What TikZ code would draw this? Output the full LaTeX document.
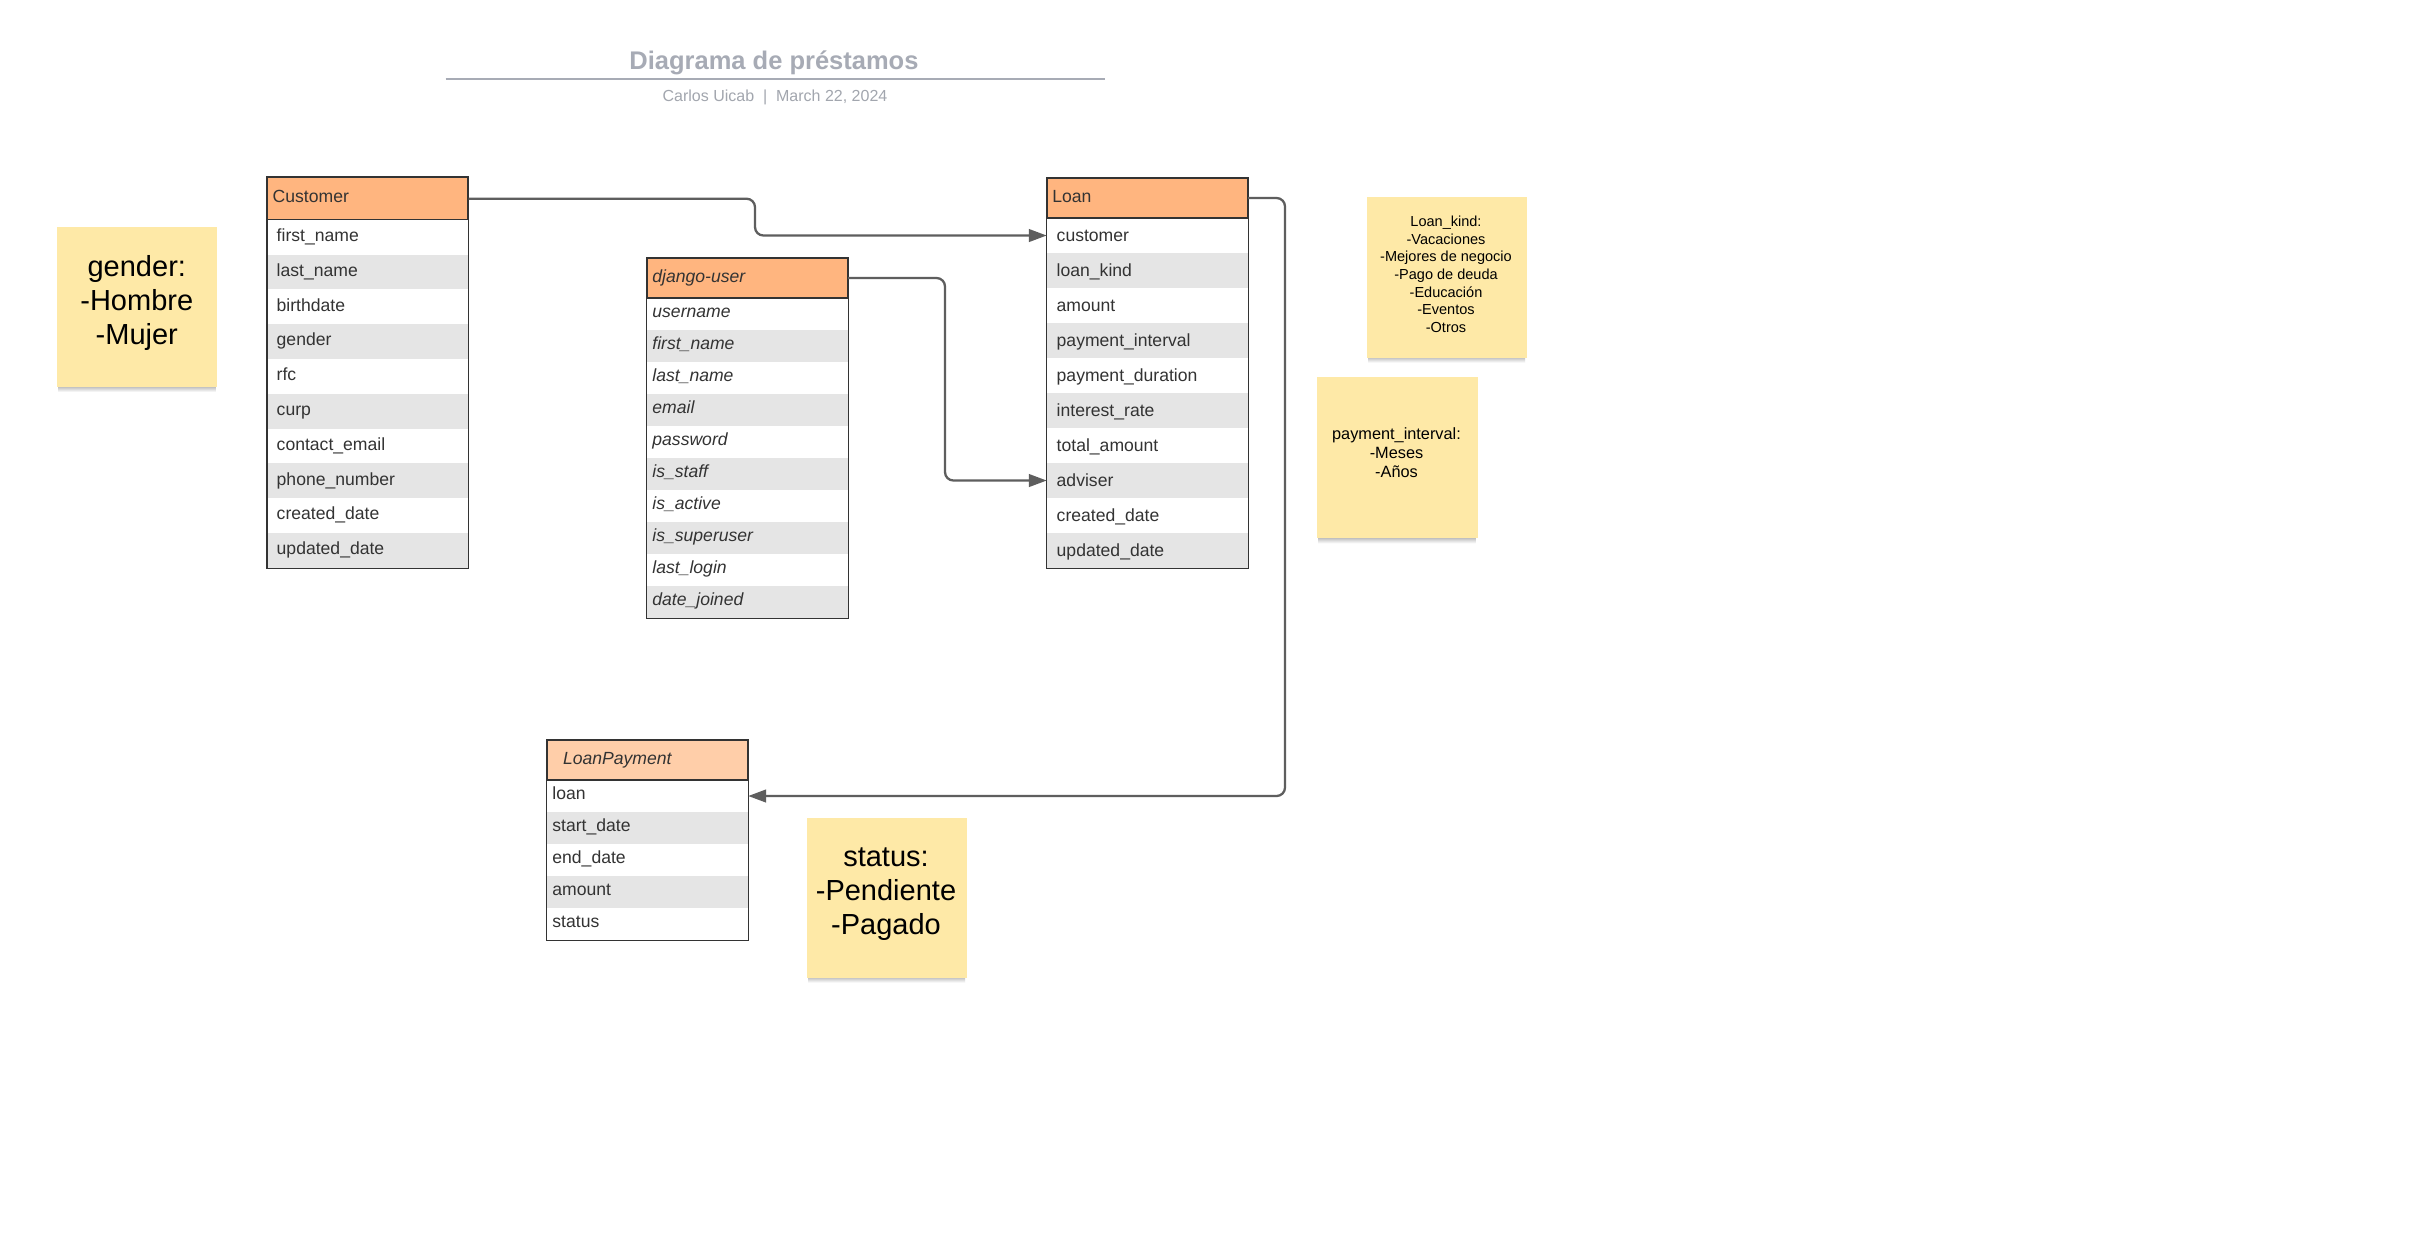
\documentclass[tikz,border=0pt]{standalone}
\usepackage{fontspec}
\setmainfont{Liberation Sans}
\usetikzlibrary{arrows.meta}
\definecolor{hdrorange}{HTML}{FFB57F}
\definecolor{hdrlight}{HTML}{FFCEA9}
\definecolor{rowgray}{HTML}{E5E5E5}
\definecolor{border}{HTML}{333333}
\definecolor{txt}{HTML}{333333}
\definecolor{notey}{HTML}{FEE9A7}
\definecolor{connc}{HTML}{5E5E5E}
\definecolor{titlec}{HTML}{A7ABB5}
\definecolor{subc}{HTML}{A2A6AE}
\def\pxu{0.28453pt}
\newcommand{\fieldfont}{\fontsize{5}{6}\selectfont}
\tikzset{
  cell/.style={rectangle, anchor=north west, inner ysep=0pt, align=left,
    text=txt, font=\fieldfont, text depth=4*\pxu},
  hdrcell/.style={cell, draw=border, line width=0.4pt},
  outline/.style={draw=border, line width=0.4pt},
  note/.style={rectangle, anchor=north west, fill=notey, inner sep=0pt,
    minimum width=160*\pxu, minimum height=160*\pxu},
  notetext/.style={align=center, text=black, inner sep=0pt},
  conn/.style={draw=connc, line width=0.65pt, rounded corners=2.4pt,
    -{Triangle[length=5.1pt,width=3.6pt]}},
}
\newcommand{\noteshadow}[3]{% x1, x2, ybottom
  \shade[top color=black!28, bottom color=white] (#1+2,#3) rectangle (#2-1,#3+6);}
\begin{document}
\begin{tikzpicture}[x=0.01cm,y=-0.01cm]
\useasboundingbox (0,0) rectangle (2426,1257);
\fill[white] (0,0) rectangle (2426,1257);

% ---------- title ----------
\node[anchor=base, text=titlec, inner sep=0pt, font=\bfseries\fontsize{7.25}{8.5}\selectfont] (title) at (774,69) {Diagrama de préstamos};
\coordinate (ruleL) at (445.6,79);
\coordinate (ruleR) at (1104.6,79);
\draw[draw=titlec, line width=0.45pt] (ruleL) -- (ruleR);
\node[anchor=base, text=subc, inner sep=0pt, font=\fontsize{4.55}{5.5}\selectfont] (subtitle) at (775,101) {Carlos Uicab \ \textbar\ \ March 22, 2024};

% ---------- Customer ----------
\foreach \t [count=\i] in {first\_name,last\_name,birthdate,gender,rfc,curp,contact\_email,phone\_number,created\_date,updated\_date}{
  \ifodd\i \def\rf{white}\else\def\rf{rowgray}\fi
  \node[cell, fill=\rf, minimum width=200*\pxu, minimum height=34.8*\pxu,
    inner xsep=9*\pxu, text width=182*\pxu, text height=12.6*\pxu] (cust-\i) at (267,{219+(\i-1)*34.8}) {\t};
}
\node[hdrcell, fill=hdrorange, minimum width=200*\pxu, minimum height=42*\pxu,
  inner xsep=5*\pxu, text width=190*\pxu, text height=11.4*\pxu] (cust) at (267,177) {Customer};
\draw[outline] (cust.north west) rectangle (cust-10.south east);

% ---------- django-user ----------
\foreach \t [count=\i] in {username,first\_name,last\_name,email,password,is\_staff,is\_active,is\_superuser,last\_login,date\_joined}{
  \ifodd\i \def\rf{white}\else\def\rf{rowgray}\fi
  \node[cell, fill=\rf, minimum width=200*\pxu, minimum height=32*\pxu,
    inner xsep=5*\pxu, text width=190*\pxu, text height=11.4*\pxu, font=\fieldfont\itshape] (dj-\i) at (646.7,{297.3+(\i-1)*32}) {\t};
}
\node[hdrcell, fill=hdrorange, minimum width=200*\pxu, minimum height=40*\pxu,
  inner xsep=5*\pxu, text width=190*\pxu, text height=12.8*\pxu, font=\fieldfont\itshape] (dj) at (646.7,257.3) {django-user};
\draw[outline] (dj.north west) rectangle (dj-10.south east);

% ---------- Loan ----------
\foreach \t [count=\i] in {customer,loan\_kind,amount,payment\_interval,payment\_duration,interest\_rate,total\_amount,adviser,created\_date,updated\_date}{
  \ifodd\i \def\rf{white}\else\def\rf{rowgray}\fi
  \node[cell, fill=\rf, minimum width=200*\pxu, minimum height=35*\pxu,
    inner xsep=9.3*\pxu, text width=181.4*\pxu, text height=16*\pxu] (loan-\i) at (1046.7,{217.3+(\i-1)*35}) {\t};
}
\node[hdrcell, fill=hdrorange, minimum width=200*\pxu, minimum height=40*\pxu,
  inner xsep=5*\pxu, text width=190*\pxu, text height=12.8*\pxu] (loan) at (1046.7,177.3) {Loan};
\draw[outline] (loan.north west) rectangle (loan-10.south east);

% ---------- LoanPayment ----------
\foreach \t [count=\i] in {loan,start\_date,end\_date,amount,status}{
  \ifodd\i \def\rf{white}\else\def\rf{rowgray}\fi
  \node[cell, fill=\rf, minimum width=200*\pxu, minimum height=32*\pxu,
    inner xsep=5*\pxu, text width=190*\pxu, text height=10.6*\pxu] (lp-\i) at (546.7,{779.3+(\i-1)*32}) {\t};
}
\node[hdrcell, fill=hdrlight, minimum width=200*\pxu, minimum height=40*\pxu,
  inner xsep=15.6*\pxu, text width=168.8*\pxu, text height=12*\pxu, font=\fieldfont\itshape] (lp) at (546.7,739.3) {LoanPayment};
\draw[outline] (lp.north west) rectangle (lp-5.south east);

% ---------- notes ----------
\noteshadow{56.7}{216.7}{386}
\node[note] (gnote) at (56.7,226) {};
\node[notetext, font=\fontsize{8.25}{9.67}\selectfont] (gtext) at (136.8,302.7) {gender:\\-Hombre\\-Mujer};

\noteshadow{806}{966}{976.7}
\node[note] (snote) at (806,817.3) {};
\node[notetext, font=\fontsize{8.25}{9.67}\selectfont] (stext) at (886,894) {status:\\-Pendiente\\-Pagado};

\noteshadow{1366}{1526}{356.7}
\node[note] (knote) at (1366,196.7) {};
\node[notetext, font=\fontsize{4.13}{5.03}\selectfont] (ktext) at (1446,274.4) {Loan\_kind:\\-Vacaciones\\-Mejores de negocio\\-Pago de deuda\\-Educación\\-Eventos\\-Otros};

\noteshadow{1316}{1476.7}{537.3}
\node[note, minimum width=160.7*\pxu, minimum height=160.6*\pxu] (pnote) at (1316,376.7) {};
\node[notetext, font=\fontsize{4.64}{5.4}\selectfont] (ptext) at (1396.5,452.8) {payment\_interval:\\-Meses\\-Años};

% ---------- connectors ----------
\coordinate (c1) at (755,215);
\coordinate (c2) at (945,380);
\coordinate (c3) at (1285,500);
\draw[conn] (cust.east) -| (c1) |- (loan-1.west);
\draw[conn] (dj.east) -| (c2) |- (loan-8.west);
\draw[conn] (loan.east) -| (c3) |- (lp-1.east);
\end{tikzpicture}
\end{document}
